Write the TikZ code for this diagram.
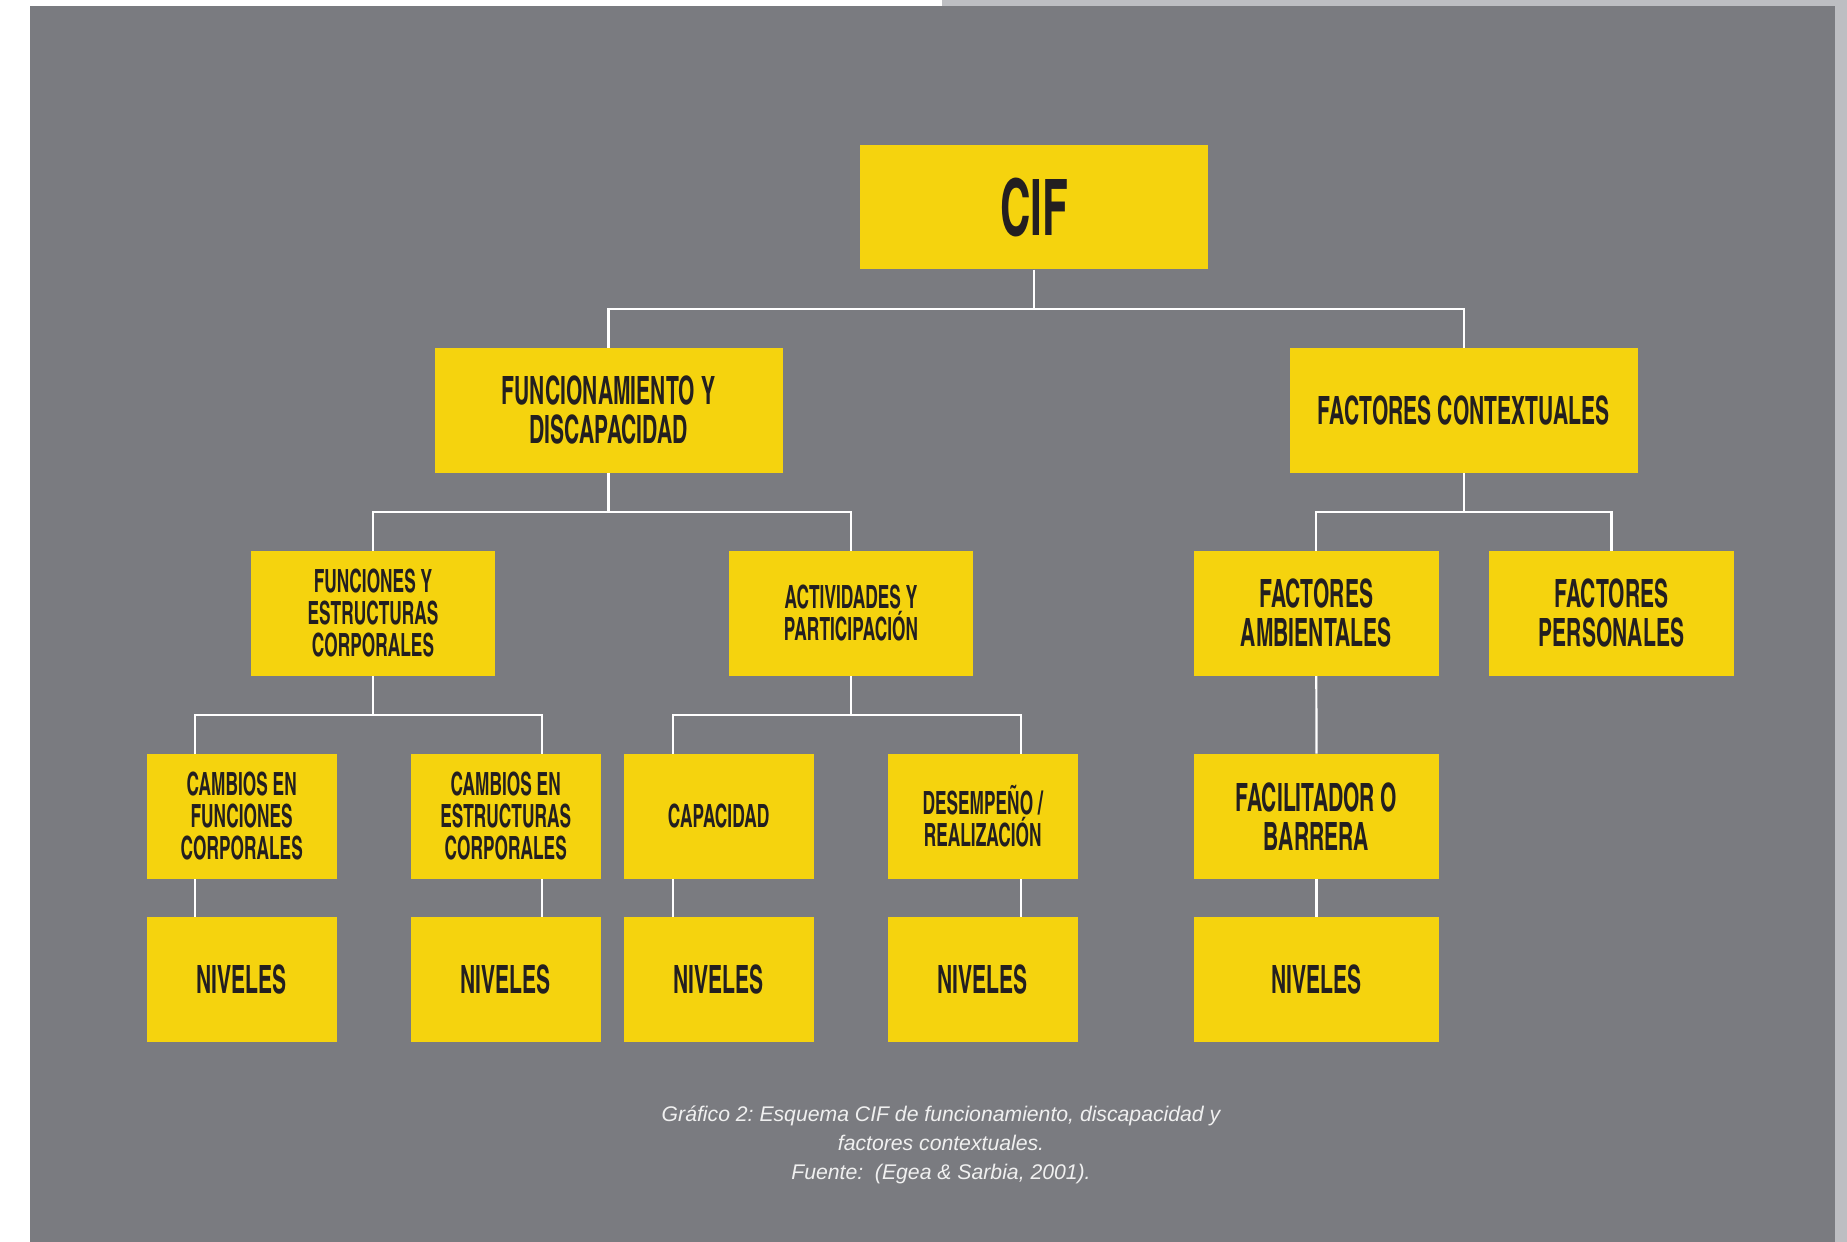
\documentclass[tikz,border=0pt]{standalone}
\usepackage{fontspec}
\setmainfont{Liberation Sans}
\newfontfamily\condfont{texgyreheroscn-bold.otf}[FakeStretch=0.66]
\usetikzlibrary{calc}

\definecolor{panel}{HTML}{7A7B80}
\definecolor{strip}{HTML}{BDBEC2}
\definecolor{boxfill}{HTML}{F5D30E}
\definecolor{ink}{HTML}{231F20}
\definecolor{capt}{HTML}{F0F0F0}

\newcommand\ciftxt{\condfont\fontsize{39}{39}\selectfont}
\newcommand\bigtxt{\condfont\fontsize{19.5}{19.5}\selectfont}
\newcommand\smalltxt{\condfont\fontsize{16}{16}\selectfont}

\begin{document}
\frenchspacing
\begin{tikzpicture}[x=0.5pt, y=-0.5pt,
  box/.style={fill=boxfill, draw=none, inner sep=0pt, text=ink, align=center,
              minimum height=62.3pt},
  widebox/.style={box, minimum width=174pt},
  midbox/.style={box, minimum width=122.3pt},
  narrowbox/.style={box, minimum width=95pt},
  link/.style={draw=white, line width=1.1pt}]

% page and panel
\useasboundingbox (0,0) rectangle (1847,1242);
\fill[white] (0,0) rectangle (1847,1242);
\fill[strip] (942,0) rectangle (1847,6);
\fill[strip] (1835,0) rectangle (1847,1242);
\fill[panel] (30,6) rectangle (1835,1242);

% level 0
\node[widebox, font=\ciftxt] (cif) at (1034,207) {CIF};

% level 1
\node[widebox, font=\bigtxt] (func) at (608.5,410.2) {FUNCIONAMIENTO Y\\DISCAPACIDAD};
\node[widebox, font=\bigtxt] (fact) at (1463.8,410.2) {FACTORES CONTEXTUALES};

% level 2
\node[midbox, font=\smalltxt] (fe) at (373,613.3) {FUNCIONES Y\\ESTRUCTURAS\\CORPORALES};
\node[midbox, font=\smalltxt] (ap) at (851,613.3) {ACTIVIDADES Y\\PARTICIPACIÓN};
\node[midbox, font=\bigtxt] (fa) at (1316.3,613.3) {FACTORES\\AMBIENTALES};
\node[midbox, font=\bigtxt] (fp) at (1611.5,613.3) {FACTORES\\PERSONALES};

% level 3
\node[narrowbox, font=\smalltxt] (cf) at (241.7,816.3) {CAMBIOS EN\\FUNCIONES\\CORPORALES};
\node[narrowbox, font=\smalltxt] (ce) at (505.7,816.3) {CAMBIOS EN\\ESTRUCTURAS\\CORPORALES};
\node[narrowbox, font=\smalltxt] (ca) at (718.6,816.3) {CAPACIDAD};
\node[narrowbox, font=\smalltxt] (de) at (982.7,816.3) {DESEMPEÑO /\\REALIZACIÓN};
\node[midbox, font=\bigtxt] (fb) at (1316.5,816.3) {FACILITADOR O\\BARRERA};

% level 4
\node[narrowbox, font=\bigtxt] (n1) at (241.7,979.3) {NIVELES};
\node[narrowbox, font=\bigtxt] (n2) at (505.7,979.3) {NIVELES};
\node[narrowbox, font=\bigtxt] (n3) at (718.6,979.3) {NIVELES};
\node[narrowbox, font=\bigtxt] (n4) at (982.7,979.3) {NIVELES};
\node[midbox, font=\bigtxt] (n5) at (1316.5,979.3) {NIVELES};

% bus heights between rows
\coordinate (bus1) at (0,308.6);
\coordinate (bus2) at (0,511.7);
\coordinate (bus3) at (0,714.7);

% attachment points on the level 3 boxes
\coordinate (cf-top) at ($(cf.north west)+(48.3,0)$);
\coordinate (cf-bot) at ($(cf.south west)+(48.3,0)$);
\coordinate (ce-top) at ($(ce.north west)+(132,0)$);
\coordinate (ce-bot) at ($(ce.south west)+(132,0)$);
\coordinate (ca-top) at ($(ca.north west)+(50,0)$);
\coordinate (ca-bot) at ($(ca.south west)+(50,0)$);
\coordinate (de-top) at ($(de.north west)+(133.3,0)$);
\coordinate (de-bot) at ($(de.south west)+(133.3,0)$);

% CIF to level 1
\draw[link] (cif.south) -- (cif.south |- bus1);
\draw[link] (func.north) |- (bus1 -| fact.north) -- (fact.north);

% level 1 to level 2
\draw[link] (func.south) -- (func.south |- bus2);
\draw[link] (fe.north) |- (bus2 -| ap.north) -- (ap.north);
\draw[link] (fact.south) -- (fact.south |- bus2);
\draw[link] (fa.north) |- (bus2 -| fp.north) -- (fp.north);

% level 2 to level 3
\draw[link] (fe.south) -- (fe.south |- bus3);
\draw[link] (cf-top) |- (bus3 -| ce-top) -- (ce-top);
\draw[link] (ap.south) -- (ap.south |- bus3);
\draw[link] (ca-top) |- (bus3 -| de-top) -- (de-top);
\draw[link] (fa.south) -- (fb.north);

% level 3 to level 4
\draw[link] (cf-bot) -- (cf-bot |- n1.north);
\draw[link] (ce-bot) -- (ce-bot |- n2.north);
\draw[link] (ca-bot) -- (ca-bot |- n3.north);
\draw[link] (de-bot) -- (de-bot |- n4.north);
\draw[link] (fb.south) -- (n5.north);

% caption
\node[font=\itshape\fontsize{10.6}{14.5}\selectfont, text=capt, align=center] (caption) at (941,1144.5)
  {Gráfico 2: Esquema CIF de funcionamiento, discapacidad y\\
   factores contextuales.\\
   Fuente:\ \ (Egea \& Sarbia, 2001).};
\end{tikzpicture}
\end{document}
